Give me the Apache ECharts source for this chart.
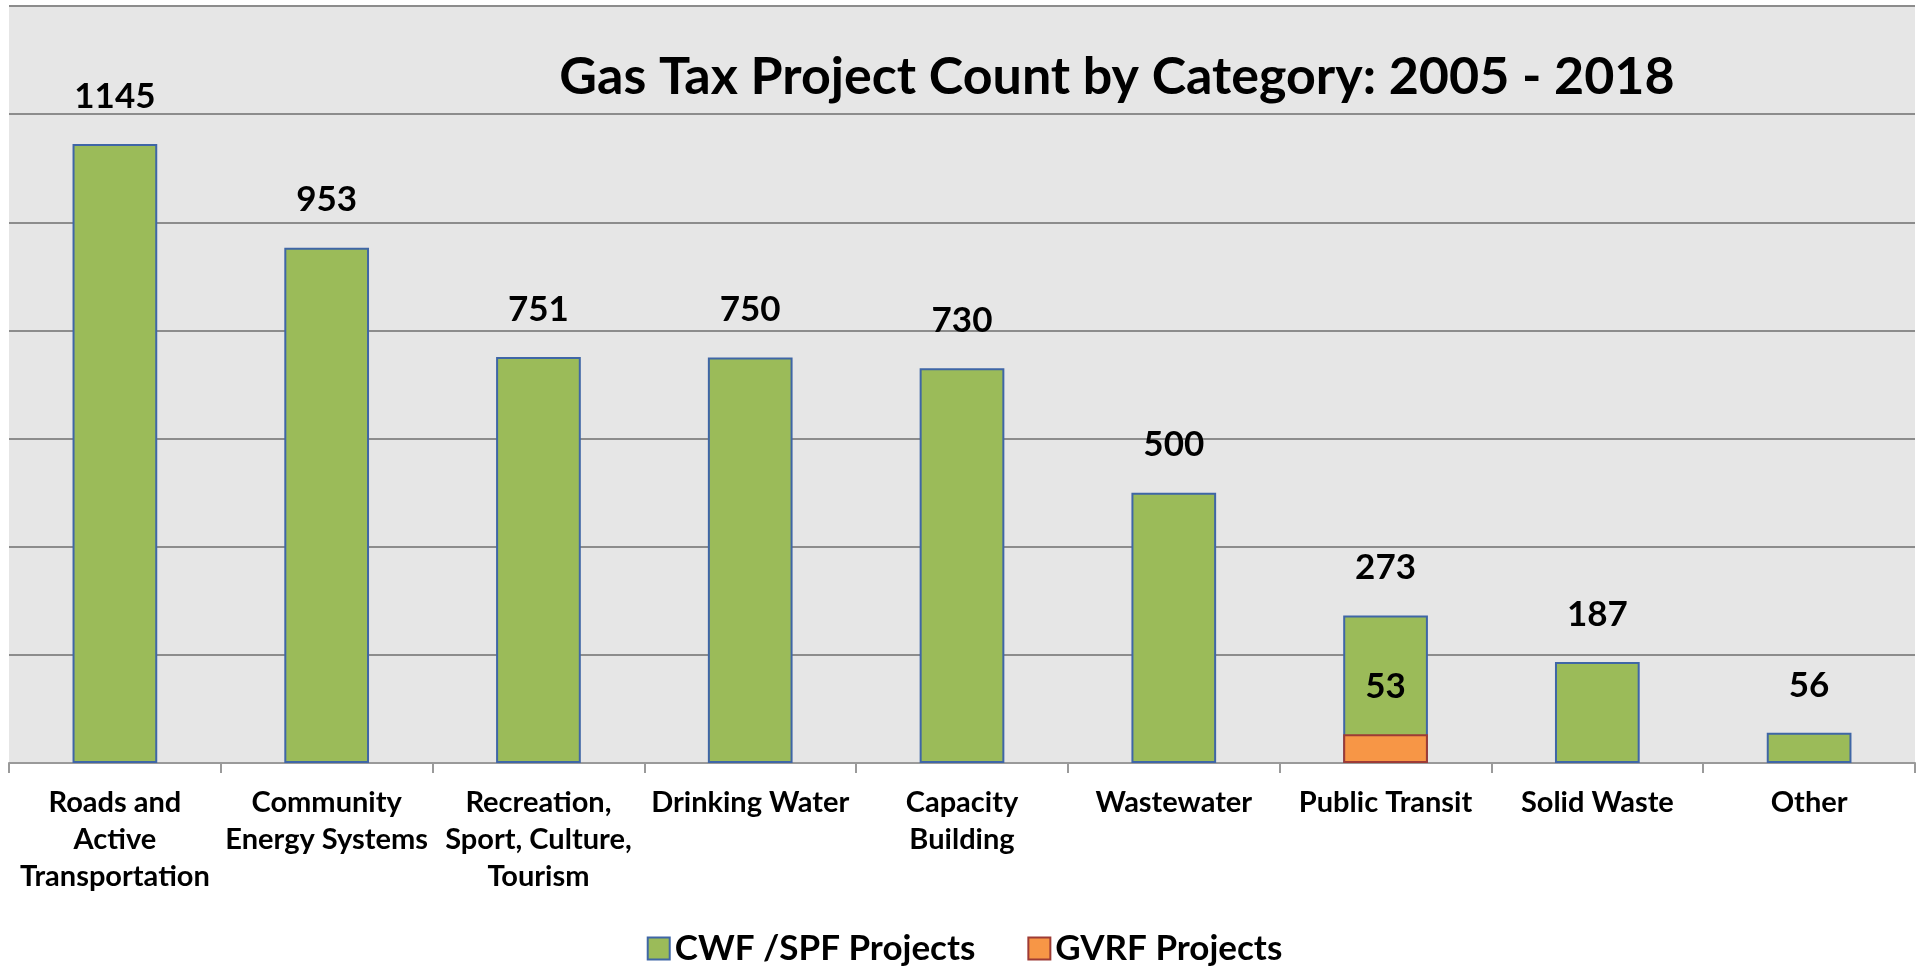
<!DOCTYPE html>
<html>
<head>
<meta charset="utf-8">
<script src="https://cdn.jsdelivr.net/npm/echarts@6/dist/echarts.min.js"></script>
<style>
  html, body { margin: 0; padding: 0; background: #fff; }
  #chart { width: 1929px; height: 968px; }
</style>
</head>
<body>
<div id="chart"></div>
<script>
// categories (x axis), with manual line breaks as in the picture
const categories = [
  'Roads and\nActive\nTransportation',
  'Community\nEnergy Systems',
  'Recreation,\nSport, Culture,\nTourism',
  'Drinking Water',
  'Capacity\nBuilding',
  'Wastewater',
  'Public Transit',
  'Solid Waste',
  'Other'
];
// CWF / SPF projects
const cwfSpf = [1145, 953, 751, 750, 730, 500, 273, 187, 56];
// GVRF projects (only public transit)
const gvrf = [null, null, null, null, null, null, 53, null, null];

const FONT = 'Lato, "Open Sans", sans-serif';

const chart = echarts.init(document.getElementById('chart'));

const labelStyle = {
  show: true,
  position: 'top',
  distance: 30,
  color: '#000',
  fontFamily: FONT,
  fontWeight: 'bold',
  fontSize: 35
};

chart.setOption({
  animation: false,
  title: {
    text: 'Gas Tax Project Count by Category: 2005 - 2018',
    left: 1112,
    top: 46,
    textAlign: 'center',
    textStyle: { fontFamily: FONT, fontWeight: 'bold', fontSize: 52, color: '#000' }
  },
  grid: {
    left: 9,
    right: 14,
    top: 6,
    bottom: 205,
    show: true,
    backgroundColor: '#e6e6e6',
    borderWidth: 0
  },
  legend: {
    top: 926,
    left: 'center',
    itemWidth: 22,
    itemHeight: 22,
    itemGap: 52,
    icon: 'rect',
    textStyle: { fontFamily: FONT, fontWeight: 'bold', fontSize: 35, color: '#000' },
    data: ['CWF /SPF Projects', 'GVRF Projects']
  },
  xAxis: {
    type: 'category',
    data: categories,
    axisLine: { lineStyle: { color: '#9a9a9a', width: 2 } },
    axisTick: { show: true, length: 10, lineStyle: { color: '#9a9a9a', width: 2 } },
    axisLabel: {
      interval: 0,
      margin: 21,
      color: '#000',
      fontFamily: FONT,
      fontWeight: 'bold',
      fontSize: 29,
      lineHeight: 37
    }
  },
  yAxis: {
    type: 'value',
    min: 0,
    max: 1400,
    interval: 200,
    axisLabel: { show: false },
    axisLine: { show: false },
    axisTick: { show: false },
    splitLine: { lineStyle: { color: '#8c8c8c', width: 2 } }
  },
  series: [
    {
      name: 'CWF /SPF Projects',
      type: 'bar',
      data: cwfSpf,
      barWidth: '40%',
      barGap: '-100%',
      itemStyle: { color: '#9bbb59', borderColor: '#3f66a6', borderWidth: 2 },
      label: labelStyle
    },
    {
      name: 'GVRF Projects',
      type: 'bar',
      data: gvrf,
      barWidth: '40%',
      barGap: '-100%',
      itemStyle: { color: '#f79646', borderColor: '#9e3b35', borderWidth: 2 },
      label: labelStyle
    }
  ]
});

new ResizeObserver(() => chart.resize()).observe(document.getElementById('chart'));
</script>
</body>
</html>
